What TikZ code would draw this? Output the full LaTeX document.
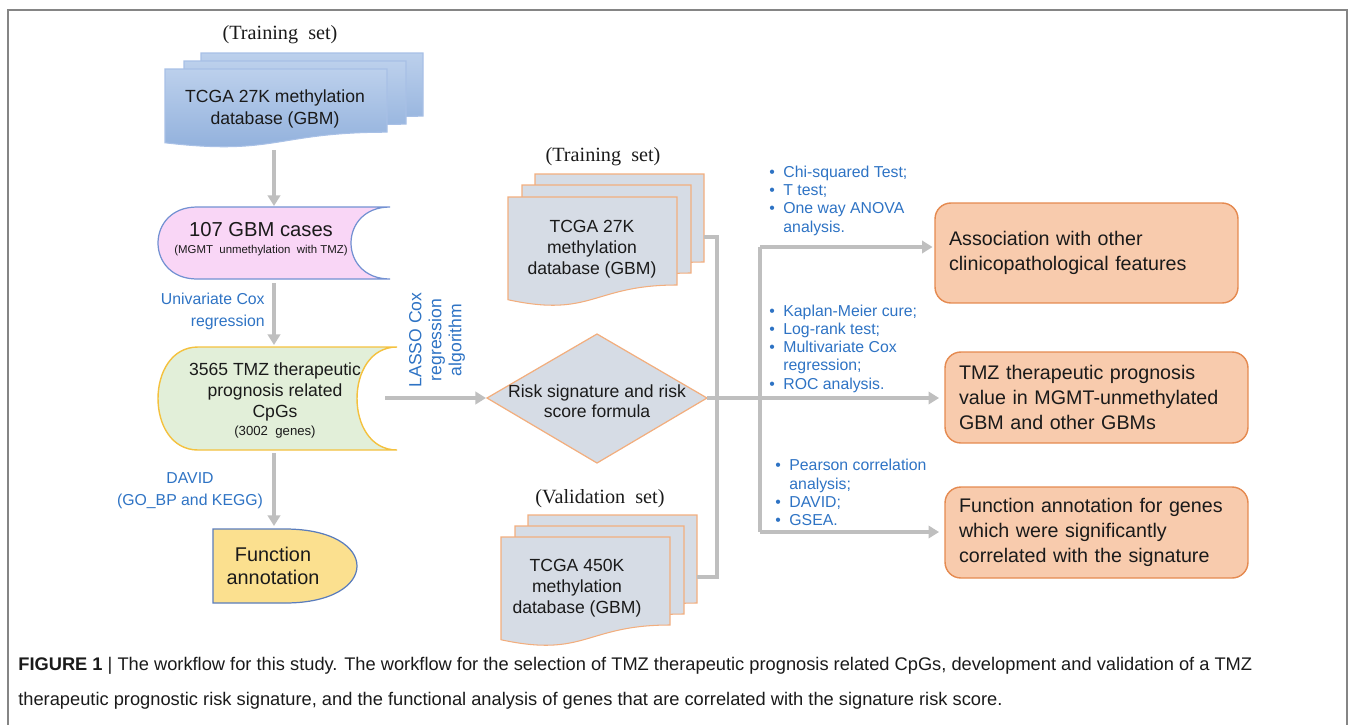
\documentclass[tikz,border=0pt]{standalone}
\usepackage{fontspec}
\setmainfont{Liberation Sans}
\newfontfamily\titlefont{Liberation Serif}
\usetikzlibrary{arrows.meta,calc}

\definecolor{linkgray}{HTML}{BFBFBF}
\definecolor{framegray}{HTML}{858585}
\definecolor{bluetop}{HTML}{BCD0EC}
\definecolor{bluebot}{HTML}{8EAEDB}
\definecolor{blueline}{HTML}{A8C0E6}
\definecolor{grayfill}{HTML}{D6DCE5}
\definecolor{orangeline}{HTML}{F2AE7E}
\definecolor{orangefill}{HTML}{F8CBAD}
\definecolor{orangedark}{HTML}{E58A50}
\definecolor{pinkfill}{HTML}{F9D6F6}
\definecolor{pinkline}{HTML}{7391D2}
\definecolor{greenfill}{HTML}{E2EFD9}
\definecolor{goldline}{HTML}{F4C13E}
\definecolor{yellowfill}{HTML}{FBE08F}
\definecolor{slateline}{HTML}{5B7DBC}
\definecolor{labelblue}{HTML}{2E73C4}
\definecolor{inktext}{HTML}{1A1A1A}

% document page: x, y, width, height, style
\newcommand{\docpage}[5]{%
  \draw[#5] (#1,#2) -- ({#1+#3},#2) -- ({#1+#3},{#2+0.8*#4})
    .. controls ({#1+0.5*#3},{#2+0.8*#4}) and ({#1+0.5*#3},{#2+1.1*#4}) .. (#1,{#2+0.934*#4}) -- cycle;}
% stored data: x0, y0, x1, y1, r, style
\newcommand{\storeddata}[6]{%
  \draw[#6] ({#1+#5},#2) -- (#3,#2)
    .. controls ({#3-1.333*#5},#2) and ({#3-1.333*#5},#4) .. (#3,#4)
    -- ({#1+#5},#4) .. controls ({#1-0.333*#5},#4) and ({#1-0.333*#5},#2) .. cycle;}
\newcommand{\blt}{\makebox[8pt][l]{•}}

\tikzset{
  link/.style={draw=linkgray, line width=2.2pt},
  linkarrow/.style={link, -{Triangle[width=7pt,length=6pt]}},
  bluedoc/.style={draw=blueline, line width=0.6pt, top color=bluetop, bottom color=bluebot},
  graydoc/.style={draw=orangeline, line width=0.6pt, fill=grayfill},
  settitle/.style={font=\titlefont\fontsize{11.5}{13}\selectfont, text=inktext},
  doctext/.style={align=center, text=inktext, inner sep=0pt},
  bluelabel/.style={text=labelblue, inner sep=0pt, font=\fontsize{9}{12.5}\selectfont},
  bluelist/.style={text=labelblue, inner sep=0pt, align=left, font=\fontsize{9}{10.4}\selectfont},
  outbox/.style={draw=orangedark, fill=orangefill, line width=0.8pt, rounded corners=9pt,
    minimum width=6.06cm, text width=5.5cm, align=left, inner sep=0pt, text=inktext,
    font=\fontsize{11.2}{14.2}\selectfont},
}

\begin{document}
\begin{tikzpicture}[x=0.02cm, y=-0.02cm]
  \useasboundingbox (0,0) rectangle (1355,724);

  % frame
  \draw[framegray, line width=1.2pt] (8,740) -- (8,10) -- (1347,10) -- (1347,740);

  % left column
  \node[settitle] (titleA) at (280,35) {(Training\ \ set)};
  \foreach \x/\y in {201/53,184/61,165/69}
    \docpage{\x}{\y}{222}{79}{bluedoc};
  \node[doctext, font=\fontsize{10}{12.5}\selectfont] (tcgaA) at (275,109) {TCGA 27K methylation\\database (GBM)};

  \storeddata{158}{207}{390}{279}{39}{draw=pinkline, fill=pinkfill, line width=0.7pt}
  \node[doctext, font=\fontsize{11.5}{13}\selectfont] (gbm) at (261,230) {107 GBM cases};
  \node[doctext, font=\fontsize{6.5}{8}\selectfont] (gbmnote) at (261,251) {(MGMT\ \ unmethylation\ \ with TMZ)};

  \storeddata{158}{347}{397}{450}{40}{draw=goldline, fill=greenfill, line width=0.8pt}
  \node[doctext, font=\fontsize{10}{11.7}\selectfont] (cpg) at (275,392) {3565 TMZ therapeutic\\prognosis related\\CpGs};
  \node[doctext, font=\fontsize{7.5}{9}\selectfont] (cpgnote) at (275,432) {(3002\ \ genes)};

  \draw[draw=slateline, fill=yellowfill, line width=0.7pt] (213,529) -- (285,529)
    .. controls (381,529) and (381,603) .. (285,603) -- (213,603) -- cycle;
  \node[doctext, font=\fontsize{11.3}{13}\selectfont] (funct) at (273,566) {Function\\annotation};

  \coordinate (tcgaAb) at (274,150);
  \coordinate (gbmT) at (274,206);
  \coordinate (gbmB) at (274,283);
  \coordinate (cpgT) at (274,345);
  \coordinate (cpgB) at (274,453);
  \coordinate (functT) at (274,526);
  \draw[linkarrow] (tcgaAb) -- (gbmT);
  \draw[linkarrow] (gbmB) -- (cpgT);
  \draw[linkarrow] (cpgB) -- (functT);

  \node[bluelabel, align=right, anchor=east] (univ) at (265,311) {Univariate Cox\\regression};
  \node[bluelabel, align=center] (david) at (190,491) {DAVID\\(GO\_BP and KEGG)};

  % middle column
  \node[settitle] (titleB) at (603,157) {(Training\ \ set)};
  \foreach \x/\y in {535/174,522/185,508/197}
    \docpage{\x}{\y}{169}{110}{graydoc};
  \node[doctext, font=\fontsize{10}{12}\selectfont] (tcgaB) at (592,249) {TCGA 27K\\methylation\\database (GBM)};

  \node[settitle] (titleC) at (600,499) {(Validation\ \ set)};
  \foreach \x/\y in {528/515,515/526,501/537}
    \docpage{\x}{\y}{169}{110}{graydoc};
  \node[doctext, font=\fontsize{10}{12}\selectfont] (tcgaC) at (577,588) {TCGA 450K\\methylation\\database (GBM)};

  \draw[draw=orangeline, fill=grayfill, line width=0.7pt] (487,398) -- (597,334) -- (707,398) -- (597,463) -- cycle;
  \node[doctext, font=\fontsize{10}{11.4}\selectfont] (risk) at (597,401) {Risk signature and risk\\score formula};

  \coordinate (cpgR) at (385,398);
  \coordinate (riskW) at (486,398);
  \coordinate (riskE) at (707,398);
  \draw[linkarrow] (cpgR) -- (riskW);
  \node[bluelabel, rotate=90, align=center, font=\fontsize{10}{11.4}\selectfont] (lasso) at (437,340) {LASSO Cox\\regression\\algorithm};

  \coordinate (tcgaBr) at (704,237);
  \coordinate (tcgaCr) at (697,577);
  \coordinate (joinx) at (717,0);
  \draw[link] (tcgaBr) -- (tcgaBr -| joinx) -- (tcgaCr -| joinx) -- (tcgaCr);

  % right column
  \node[outbox, minimum height=2cm] (assoc) at (1086.5,253) {Association with other\\clinicopathological features};
  \node[outbox, minimum height=1.82cm] (prog) at (1096.5,397.5) {TMZ therapeutic prognosis\\value in MGMT-unmethylated\\GBM and other GBMs};
  \node[outbox, minimum height=1.82cm] (genes) at (1096.5,532.5) {Function annotation for genes\\which were significantly\\correlated with the signature};

  \coordinate (busT) at (760,247);
  \coordinate (busB) at (760,532);
  \draw[link] (busT) -- (busB);
  \draw[linkarrow, shorten >=1pt] (busT) -- (busT -| assoc.west);
  \draw[linkarrow, shorten >=3pt] (riskE) -- (riskE -| prog.west);
  \draw[linkarrow, shorten >=3pt] (busB) -- (busB -| genes.west);

  \node[bluelist, anchor=west] (stats) at (769,200.5) {\blt Chi-squared Test;\\\blt T test;\\\blt One way ANOVA\\\hspace*{8pt}analysis.};
  \node[bluelist, anchor=west] (surv) at (769,348.5) {\blt Kaplan-Meier cure;\\\blt Log-rank test;\\\blt Multivariate Cox\\\hspace*{8pt}regression;\\\blt ROC analysis.};
  \node[bluelist, anchor=west] (corr) at (775,492.5) {\blt Pearson correlation\\\hspace*{8pt}analysis;\\\blt DAVID;\\\blt GSEA.};

  % caption
  \node[anchor=west, inner sep=0pt, text=inktext, font=\fontsize{10.4}{12}\selectfont] (cap1) at (18,666)
    {\textbf{FIGURE 1} | The workflow for this study. The workflow for the selection of TMZ therapeutic prognosis related CpGs, development and validation of a TMZ};
  \node[anchor=west, inner sep=0pt, text=inktext, font=\fontsize{10.4}{12}\selectfont] (cap2) at (18,701)
    {therapeutic prognostic risk signature, and the functional analysis of genes that are correlated with the signature risk score.};
\end{tikzpicture}
\end{document}
